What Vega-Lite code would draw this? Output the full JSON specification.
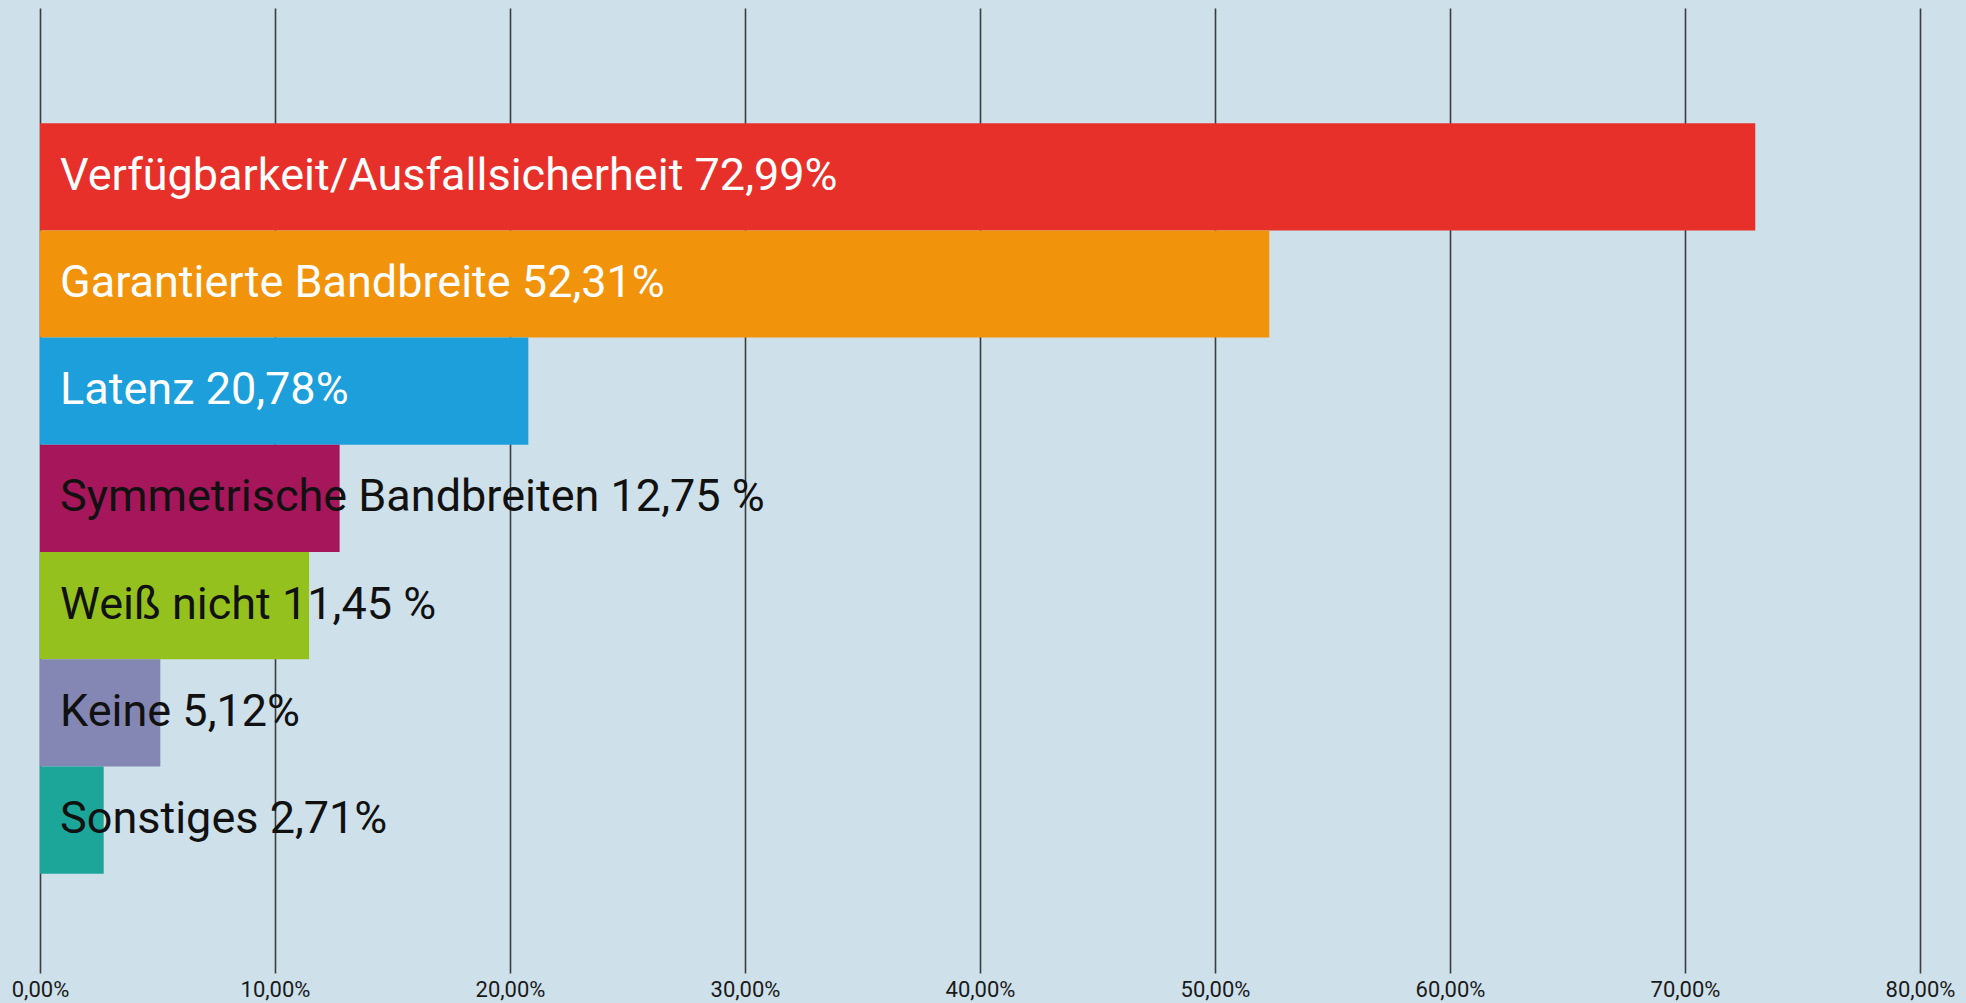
{
  "$schema": "https://vega.github.io/schema/vega-lite/v6.json",
  "width": 1880,
  "height": 965,
  "autosize": {"type": "none"},
  "padding": {"left": 40, "top": 8, "right": 46, "bottom": 30},
  "background": "#cee0ea",
  "config": {
    "view": {"stroke": null},
    "locale": {"number": {"decimal": ",", "thousands": ".", "grouping": [3], "currency": ["", " €"]}}
  },
  "data": {
    "values": [
      {"kategorie": "Verfügbarkeit/Ausfallsicherheit", "anteil": 0.7299, "beschriftung": "Verfügbarkeit/Ausfallsicherheit 72,99%", "farbe": "#e8302b", "textfarbe": "#ffffff"},
      {"kategorie": "Garantierte Bandbreite", "anteil": 0.5231, "beschriftung": "Garantierte Bandbreite 52,31%", "farbe": "#f2930c", "textfarbe": "#ffffff"},
      {"kategorie": "Latenz", "anteil": 0.2078, "beschriftung": "Latenz 20,78%", "farbe": "#1c9fdb", "textfarbe": "#ffffff"},
      {"kategorie": "Symmetrische Bandbreiten", "anteil": 0.1275, "beschriftung": "Symmetrische Bandbreiten 12,75 %", "farbe": "#a5175a", "textfarbe": "#111111"},
      {"kategorie": "Weiß nicht", "anteil": 0.1145, "beschriftung": "Weiß nicht 11,45 %", "farbe": "#95c11f", "textfarbe": "#111111"},
      {"kategorie": "Keine", "anteil": 0.0512, "beschriftung": "Keine 5,12%", "farbe": "#8487b3", "textfarbe": "#111111"},
      {"kategorie": "Sonstiges", "anteil": 0.0271, "beschriftung": "Sonstiges 2,71%", "farbe": "#1ca599", "textfarbe": "#111111"}
    ]
  },
  "encoding": {
    "y": {
      "field": "kategorie",
      "type": "nominal",
      "sort": null,
      "scale": {"paddingInner": 0, "paddingOuter": 1, "align": 0.537},
      "axis": null
    }
  },
  "layer": [
    {
      "mark": {"type": "bar"},
      "encoding": {
        "x": {
          "field": "anteil",
          "type": "quantitative",
          "scale": {"domain": [0, 0.8], "nice": false},
          "axis": {
            "values": [0, 0.1, 0.2, 0.3, 0.4, 0.5, 0.6, 0.7, 0.8],
            "format": ".2%",
            "title": null,
            "orient": "bottom",
            "grid": true,
            "gridColor": "#3c3c3c",
            "gridWidth": 1.6,
            "gridOpacity": 1,
            "ticks": false,
            "domain": false,
            "labelFlush": false,
            "labelFont": "Roboto",
            "labelFontSize": 22,
            "labelColor": "#1a1a1a",
            "labelPadding": 6
          }
        },
        "color": {"field": "farbe", "type": "nominal", "scale": null, "legend": null}
      }
    },
    {
      "mark": {"type": "text", "align": "left", "baseline": "middle", "dx": 20, "dy": -1, "font": "Roboto", "fontSize": 45},
      "encoding": {
        "x": {"datum": 0, "type": "quantitative"},
        "text": {"field": "beschriftung", "type": "nominal"},
        "color": {"field": "textfarbe", "type": "nominal", "scale": null, "legend": null}
      }
    }
  ]
}
